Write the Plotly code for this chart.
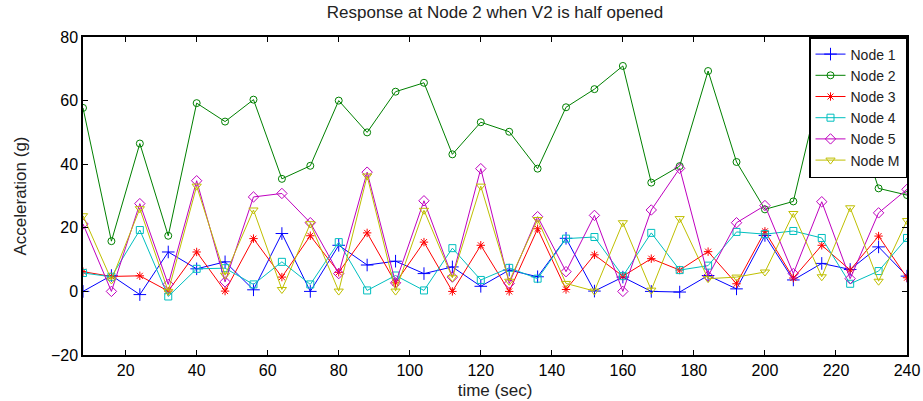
import plotly.graph_objects as go

time = [8, 16, 24, 32, 40, 48, 56, 64, 72, 80, 88, 96, 104, 112, 120, 128, 136, 144, 152, 160,
        168, 176, 184, 192, 200, 208, 216, 224, 232, 240]

node1 = [0, 5, -1, 12.4, 7.1, 9.3, 0.5, 18.2, 0, 14.5, 8.3, 9.5, 5.6, 7.7, 1.6, 6.7, 4.6, 16.7, 0.1, 4.5,
         0, -0.2, 5, 0.8, 17.6, 3.6, 8.8, 6.9, 14, 4.8]
node2 = [57.7, 15.8, 46.5, 17.5, 59.2, 53.4, 60.3, 35.4, 39.5, 60, 50, 62.8, 65.6, 43.1, 53.2, 50.2, 38.6, 57.9, 63.6, 70.9,
         34.2, 39.4, 69.3, 40.7, 25.8, 28.3, 65.8, 60, 32.4, 30.3]
node3 = [6.2, 4.7, 4.9, 0.1, 12.4, 0.1, 16.6, 4.5, 17.5, 6, 18.4, 2.7, 15.5, 0, 14.5, 0, 19.7, 0.6, 11.5, 4.8,
         10.3, 6.7, 12.5, 2.4, 18.9, 4.2, 14.5, 6.7, 17.4, 4.3]
node4 = [5.8, 4.6, 19.3, -1.6, 7.1, 7.3, 2.2, 9.3, 2.2, 15.5, 0.3, 5, 0.3, 13.6, 3.6, 7.4, 4, 16.6, 17.1, 4.8,
         18.4, 6.7, 8.1, 18.7, 18, 19, 16.8, 2.4, 6.4, 16.8]
node5 = [21.2, 0, 27.6, 2.2, 34.8, 3, 29.7, 30.8, 21.6, 5.6, 37.5, 2.7, 28.5, 4.5, 38.6, 2.5, 23.5, 6.2, 23.9, 0,
         25.6, 38.7, 4.8, 21.6, 27, 5.6, 28.2, 4, 24.7, 32.1]
nodeM = [23.8, 3.6, 26, 0, 33.1, 5.1, 25.6, 0.6, 21.3, 0.1, 36.3, 0.1, 25.5, 4.3, 33.1, 3.2, 22.6, 2.5, 0.1, 21.6,
         0.4, 22.9, 4, 4.5, 6.1, 24.5, 4.6, 26.3, 3.2, 22.3]

series = [
    ("Node 1", node1, "#0000FF", "cross-thin-open", 9),
    ("Node 2", node2, "#008000", "circle-open", 7),
    ("Node 3", node3, "#FF0000", "asterisk-open", 7),
    ("Node 4", node4, "#00BFBF", "square-open", 7),
    ("Node 5", node5, "#BF00BF", "diamond-open", 8),
    ("Node M", nodeM, "#BFBF00", "triangle-down-open", 8),
]

cond = "Liberation Sans Narrow, Liberation Sans, Arial, sans-serif"
num = "Liberation Sans, Arial, Helvetica, sans-serif"

fig = go.Figure()
for name, vals, col, sym, sz in series:
    fig.add_trace(go.Scatter(
        x=time, y=vals, name=name, mode="lines+markers",
        line=dict(color=col, width=1),
        marker=dict(symbol=sym, size=sz, color=col, line=dict(color=col, width=1)),
    ))

fig.update_layout(
    width=923, height=401,
    margin=dict(l=83, r=16, t=37, b=46),
    paper_bgcolor="white", plot_bgcolor="white",
    title=dict(text="Response at Node 2 when V2 is half opened", xref="paper", x=0.5, xanchor="center",
               y=0.985, yanchor="top", font=dict(family=cond, size=17, color="#222")),
    legend=dict(x=1, y=1, xanchor="right", yanchor="top", bgcolor="white",
                bordercolor="black", borderwidth=1.5,
                font=dict(family=cond, size=14, color="#222"), tracegroupgap=0,
                itemwidth=30),
    showlegend=True,
)
fig.update_xaxes(range=[8, 240], tickvals=list(range(20, 241, 20)), automargin=False,
                 showline=True, linecolor="black", linewidth=1.5, mirror="ticks",
                 ticks="inside", ticklen=5, tickcolor="black", showgrid=False, zeroline=False,
                 tickfont=dict(family=num, size=16, color="black"),
                 title=dict(text="time (sec)", font=dict(family=cond, size=17, color="#222"), standoff=6))
fig.update_yaxes(range=[-20, 80], tickvals=list(range(-20, 81, 20)), automargin=False,
                 showline=True, linecolor="black", linewidth=1.5, mirror="ticks",
                 ticks="inside", ticklen=5, tickcolor="black", showgrid=False, zeroline=False,
                 tickfont=dict(family=num, size=16, color="black"),
                 title=dict(text="Acceleration (g)", font=dict(family=cond, size=17, color="#222"), standoff=20))

fig.write_html("out.html")
